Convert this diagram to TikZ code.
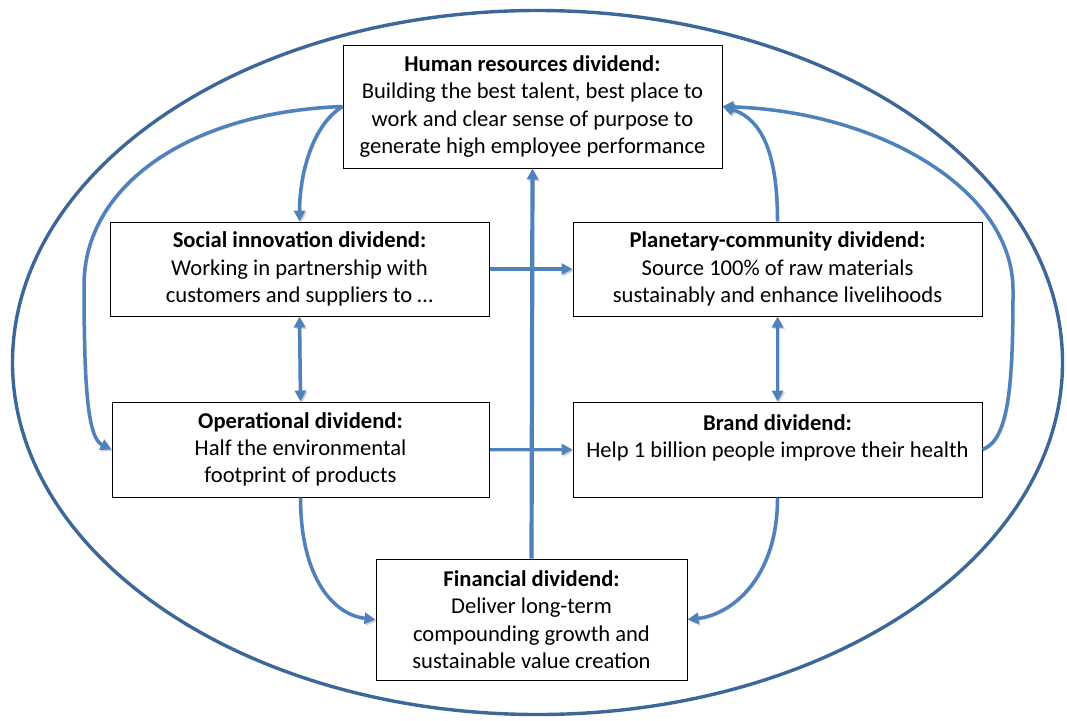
\documentclass[tikz,border=0pt]{standalone}
\usepackage{fontspec}
\setmainfont{Carlito}
\usetikzlibrary{arrows.meta}
\definecolor{linkblue}{HTML}{4F81BD}
\definecolor{ringblue}{HTML}{3E6799}
\tikzset{
  box/.style={draw=black, line width=1pt, fill=white, align=center, inner sep=0pt,
    font=\fontsize{22.6}{27.3}\selectfont},
  link/.style={draw=linkblue, line width=3.5pt, -{Triangle[length=11pt,width=11pt]},
    preaction={draw=black!45, opacity=0.35, transform canvas={shift={(1.6,1.6)}}}},
  twoway/.style={link, {Triangle[length=11pt,width=11pt]}-{Triangle[length=11pt,width=11pt]}},
}
\begin{document}
\begin{tikzpicture}[x=1pt,y=-1pt]
\useasboundingbox (0,0) rectangle (1067,720);
\fill[white] (0,0) rectangle (1067,720);
% outer ring
\draw[ringblue, line width=3.4pt] (537.5,362.5) ellipse [x radius=525pt, y radius=352pt];

% dividend boxes
\node[box, minimum width=379pt, minimum height=123pt] (hr) at (532.5,106.5)
  {\textbf{Human resources dividend:}\\Building the best talent, best place to\\work and clear sense of purpose to\\generate high employee performance};
\node[box, minimum width=379pt, minimum height=94pt] (soc) at (299.5,269)
  {\textbf{Social innovation dividend:}\\Working in partnership with\\customers and suppliers to \dots};
\node[box, minimum width=409pt, minimum height=94pt] (pla) at (777.5,269)
  {\textbf{Planetary-community dividend:}\\Source 100\% of raw materials\\sustainably and enhance livelihoods};
\node[box, minimum width=377pt, minimum height=95pt] (ope) at (300.5,449.5)
  {\textbf{Operational dividend:}\\Half the environmental\\footprint of products};
\node[box, minimum width=409pt, minimum height=95pt] (bra) at (777.5,449.5)
  {\textbf{Brand dividend:}\\Help 1 billion people improve their health\\\mbox{}};
\node[box, minimum width=311pt, minimum height=121pt] (fin) at (531.5,619.5)
  {\textbf{Financial dividend:}\\Deliver long-term\\compounding growth and\\sustainable value creation};

% straight links
\draw[link, line width=4.2pt] (fin.north) -- (hr.south);
\draw[link] (soc.east) -- (pla.west);
\draw[link] (ope.east) -- (bra.west);
\draw[twoway] (soc.south) -- (ope.north);
\draw[twoway] (pla.south) -- (bra.north);

% curved links
\draw[link] (hr.west) .. controls (312,125) and (299.5,175) .. (soc.north);
\draw[link] (hr.west) .. controls (190,112) and (84,185) .. (84,285)
  .. controls (84,390) and (88,438) .. (ope.west);
\draw[link] (pla.north) .. controls (777.5,160) and (765,120) .. (hr.east);
\draw[link] (bra.east) .. controls (1008,440) and (1013,390) .. (1013,290)
  .. controls (1013,190) and (880,112) .. (hr.east);
\draw[link] (ope.south) .. controls (300.5,580) and (335,615) .. (fin.west);
\draw[link] (bra.south) .. controls (777.5,580) and (730,615) .. (fin.east);
\end{tikzpicture}
\end{document}
